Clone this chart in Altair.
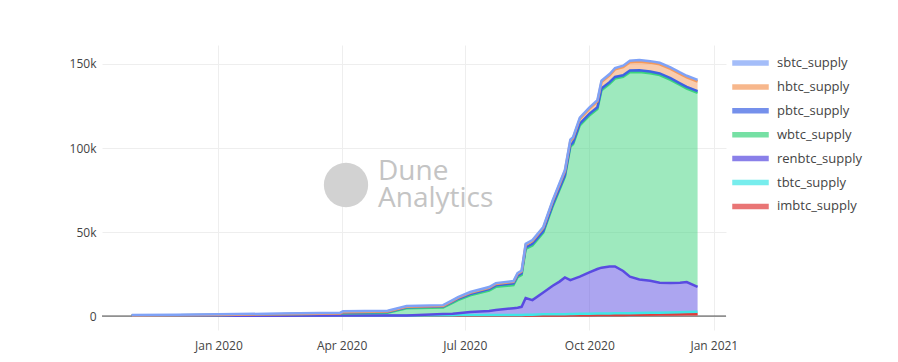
import altair as alt
import pandas as pd

dates = ["2019-10-29","2019-12-01","2020-01-01","2020-02-15","2020-03-31","2020-04-02","2020-05-05","2020-05-19",
         "2020-06-15","2020-06-22","2020-06-26","2020-07-05","2020-07-19","2020-07-24","2020-08-06","2020-08-09",
         "2020-08-12","2020-08-15","2020-08-20","2020-08-28","2020-09-04","2020-09-09","2020-09-13","2020-09-17",
         "2020-09-19","2020-09-24","2020-10-01","2020-10-07","2020-10-10","2020-10-16","2020-10-20","2020-10-26",
         "2020-10-31","2020-11-07","2020-11-15","2020-11-22","2020-11-30","2020-12-07","2020-12-12","2020-12-20"]

imbtc_supply = [150,180,200,250,300,300,300,300,300,300,300,300,300,300,300,300,300,300,300,400,
                400,400,400,500,500,500,500,600,600,600,700,700,800,800,900,1000,1100,1200,1300,1400]
tbtc_supply = [0,0,0,0,0,0,0,100,200,200,300,300,400,400,400,400,400,500,500,600,
               600,700,700,700,700,800,800,900,900,900,900,900,900,1000,1000,1000,1000,1100,1100,1100]
renbtc_supply = [0,0,0,0,0,0,0,0,700,900,1100,1800,2300,2900,4000,4300,4800,9900,8700,13000,
                 17000,19400,21900,20200,20800,22200,24700,26500,27300,28000,27900,25200,21700,20000,19100,17800,17500,17500,17800,14800]
wbtc_supply = [250,320,450,800,1200,1300,1600,4200,3900,6500,7800,9900,12200,13800,13700,18100,19000,29200,32500,35600,
               47400,54600,59900,79400,80200,90000,93300,95200,105600,108700,111800,115500,121700,123400,123500,123600,121000,117700,115200,115500]
pbtc_supply = [0,0,0,0,0,500,500,600,600,700,800,800,900,900,1000,1000,1000,1000,1000,1000,
               1000,1000,1000,1000,1000,1000,1000,1000,1000,1000,1000,1000,1000,1000,1000,1000,1000,1000,1000,1000]
hbtc_supply = [0,0,0,0,0,200,300,300,300,400,500,700,700,800,900,1000,1000,1500,1600,1800,
               2000,2200,2400,2500,2600,2800,3000,3500,3800,4000,4500,4800,5000,5200,5300,5400,5500,5600,5700,5800]
sbtc_supply = [300,300,350,450,500,500,500,500,500,500,500,500,500,500,500,500,500,600,600,600,
               600,700,700,700,700,700,700,800,800,800,800,900,900,900,900,900,900,900,900,900]

legend_order = ["sbtc_supply","hbtc_supply","pbtc_supply","wbtc_supply","renbtc_supply","tbtc_supply","imbtc_supply"]
colors = ["#7FA2F7","#F59A5C","#3C62E3","#3DD47E","#594BE1","#3EE6E6","#E03C3C"]

series = {
    "imbtc_supply": imbtc_supply, "tbtc_supply": tbtc_supply, "renbtc_supply": renbtc_supply,
    "wbtc_supply": wbtc_supply, "pbtc_supply": pbtc_supply, "hbtc_supply": hbtc_supply, "sbtc_supply": sbtc_supply,
}
rows = []
for rank, (name, vals) in enumerate(series.items()):
    for d, v in zip(dates, vals):
        rows.append({"date": d, "series": name, "value": v, "rank": rank})
df = pd.DataFrame(rows)

FONT = "Open Sans"

x_enc = alt.X("date:T", title=None,
              scale=alt.Scale(type="utc", domain=[alt.DateTime(year=2019, month=10, date=7, utc=True),
                                                  alt.DateTime(year=2021, month=1, date=10, utc=True)]),
              axis=alt.Axis(values=[alt.DateTime(year=2020, month=1, date=1, utc=True),
                                    alt.DateTime(year=2020, month=4, date=1, utc=True),
                                    alt.DateTime(year=2020, month=7, date=1, utc=True),
                                    alt.DateTime(year=2020, month=10, date=1, utc=True),
                                    alt.DateTime(year=2021, month=1, date=1, utc=True)],
                            labelExpr="utcFormat(datum.value, '%b %Y')", labelPadding=10))
y_scale = alt.Scale(domain=[-8300, 161300], nice=False, zero=False)

color_enc = alt.Color("series:N", title=None,
                      scale=alt.Scale(domain=legend_order, range=colors),
                      legend=alt.Legend(orient="none", legendX=637.5, legendY=7,
                                        symbolType="M-1.75,-0.2L1.75,-0.2L1.75,0.2L-1.75,0.2Z M-1.75,0L1.75,0",
                                        symbolSize=400, symbolOpacity=0.7, symbolStrokeWidth=1.5,
                                        labelFont=FONT, labelFontSize=13, labelColor="#444",
                                        labelOffset=15.5, rowPadding=5.9, padding=0))

base = alt.Chart(df).transform_stack(
    stack="value", groupby=["date"], as_=["y0", "y1"],
    sort=[alt.SortField("rank", order="ascending")]
)

areas = base.mark_area(fillOpacity=0.5, strokeWidth=0).encode(
    x=x_enc,
    y=alt.Y("y1:Q", title=None, scale=y_scale,
            axis=alt.Axis(values=[0, 50000, 100000, 150000], labelPadding=6,
                          labelExpr="datum.value == 0 ? '0' : format(datum.value / 1000, 'd') + 'k'")),
    y2="y0:Q",
    color=color_enc,
)
lines = base.mark_line(strokeWidth=2.5).encode(
    x=x_enc,
    y=alt.Y("y1:Q", scale=y_scale),
    color=color_enc,
)

zero = alt.Chart(pd.DataFrame({"z": [0]})).mark_rule(color="#444", strokeWidth=1).encode(
    y=alt.Y("z:Q", scale=y_scale))

wm = pd.DataFrame({"a": [0]})
circle = alt.Chart(wm).mark_point(shape="circle", filled=True, color="#D2D2D2", opacity=1, size=1963).encode(
    x=alt.value(244), y=alt.value(140))
watermark = alt.Chart(wm).mark_text(font=FONT, fontSize=28, color="#C4C4C4", align="left",
                                    baseline="middle", lineHeight=27).encode(
    x=alt.value(276), y=alt.value(127), text=alt.value(["Dune", "Analytics"]))

chart = alt.layer(zero, circle, watermark, areas, lines).properties(
    width=624, height=285,
    padding={"left": 61, "top": 37, "right": 5, "bottom": 5},
).configure_view(stroke=None).configure_axis(
    grid=True, gridColor="#EEEEEE", domain=False, ticks=False, tickSize=0,
    labelFont=FONT, labelFontSize=12, labelColor="#444",
)

chart.save("out.html", embed_options={"renderer": "svg", "actions": False})
